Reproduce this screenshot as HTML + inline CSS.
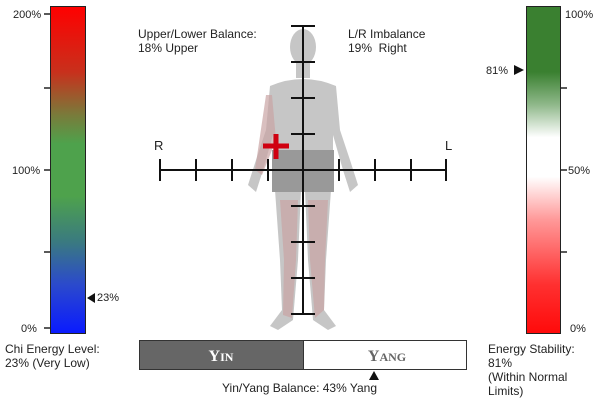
<!DOCTYPE html>
<html><head><style>
body{margin:0;width:600px;height:406px;background:#fff;position:relative;overflow:hidden;font-family:"Liberation Sans",Arial,sans-serif;color:#222}
.t{position:absolute;font-size:12px;line-height:14px;white-space:nowrap}
</style></head><body>
<svg width="600" height="406" style="position:absolute;left:0;top:0">
<defs>
<linearGradient id="g1" x1="0" y1="0" x2="0" y2="1">
<stop offset="0" stop-color="#ff0000"/><stop offset="0.2" stop-color="#c8301c"/><stop offset="0.33" stop-color="#7a7a3a"/><stop offset="0.42" stop-color="#4ea24c"/><stop offset="0.58" stop-color="#4ea24c"/><stop offset="0.72" stop-color="#3a7a80"/><stop offset="0.85" stop-color="#2b4acc"/><stop offset="1" stop-color="#0a1aff"/>
</linearGradient>
<linearGradient id="g2" x1="0" y1="0" x2="0" y2="1">
<stop offset="0" stop-color="#3a8030"/><stop offset="0.2" stop-color="#3a8030"/><stop offset="0.3" stop-color="#8fb88a"/><stop offset="0.4" stop-color="#ffffff"/><stop offset="0.52" stop-color="#ffffff"/><stop offset="0.65" stop-color="#ff9a9a"/><stop offset="0.85" stop-color="#ff3030"/><stop offset="1" stop-color="#ff0a0a"/>
</linearGradient>
</defs>
<rect x="50.5" y="6.5" width="35" height="327" fill="url(#g1)" stroke="#222"/>
<g stroke="#222" stroke-width="1.5"><line x1="44" y1="14" x2="50" y2="14"/><line x1="44" y1="88" x2="50" y2="88"/><line x1="44" y1="170" x2="50" y2="170"/><line x1="44" y1="252" x2="50" y2="252"/><line x1="44" y1="328" x2="50" y2="328"/></g>
<polygon points="87,298 95,293 95,303" fill="#111"/>
<rect x="526.5" y="6.5" width="34" height="327" fill="url(#g2)" stroke="#222"/>
<g stroke="#222" stroke-width="1.5"><line x1="561" y1="88" x2="567" y2="88"/><line x1="561" y1="170" x2="567" y2="170"/><line x1="561" y1="252" x2="567" y2="252"/></g>
<polygon points="524,70 514,65 514,75" fill="#111"/>
<!-- body -->
<g fill="#c6c6c6">
<ellipse cx="303" cy="47" rx="13" ry="18"/>
<rect x="296" y="60" width="14" height="18"/>
<path d="M270 86 Q303 72 336 86 L340 130 L350 160 L358 185 L350 192 L343 170 L333 135 L333 160 L273 160 L273 135 L263 170 L256 192 L248 185 L256 160 L266 130 Z"/>
<path d="M275 190 L301 190 L298 260 L293 320 L278 330 L270 326 L282 310 L280 260 Z"/>
<path d="M305 190 L331 190 L326 260 L324 310 L336 326 L328 330 L313 320 L308 260 Z"/>
</g>
<g fill="#c9a4a4" opacity="0.7">
<path d="M266 95 L272 95 L276 140 L262 175 L255 170 Z"/>
<path d="M280 200 L298 200 L296 260 L292 318 L283 315 L284 260 Z"/>
<path d="M308 200 L328 200 L325 260 L324 310 L315 318 L310 260 Z"/>
</g>
<rect x="272" y="150" width="62" height="42" fill="#999"/>
<!-- axes -->
<g stroke="#111" stroke-width="2">
<line x1="303" y1="26" x2="303" y2="314"/>
<line x1="160" y1="170" x2="446" y2="170"/>
<line x1="291" y1="26" x2="315" y2="26"/><line x1="291" y1="62" x2="315" y2="62"/><line x1="291" y1="98" x2="315" y2="98"/><line x1="291" y1="134" x2="315" y2="134"/><line x1="291" y1="206" x2="315" y2="206"/><line x1="291" y1="242" x2="315" y2="242"/><line x1="291" y1="278" x2="315" y2="278"/><line x1="291" y1="314" x2="315" y2="314"/>
<line x1="160" y1="159" x2="160" y2="181"/><line x1="196" y1="159" x2="196" y2="181"/><line x1="232" y1="159" x2="232" y2="181"/><line x1="268" y1="159" x2="268" y2="181"/><line x1="339" y1="159" x2="339" y2="181"/><line x1="375" y1="159" x2="375" y2="181"/><line x1="411" y1="159" x2="411" y2="181"/><line x1="446" y1="159" x2="446" y2="181"/>
</g>
<g stroke="#d00010" stroke-width="5"><line x1="263" y1="146" x2="289" y2="146"/><line x1="276" y1="134" x2="276" y2="159"/></g>
<!-- yin yang -->
<rect x="139.5" y="340.5" width="164" height="29" fill="#666" stroke="#333"/>
<rect x="303.5" y="340.5" width="163" height="29" fill="#fff" stroke="#333"/>
<text x="221" y="361" text-anchor="middle" fill="#fff" font-family="Liberation Serif,serif" font-weight="bold" font-size="16">Y<tspan font-size="12">IN</tspan></text>
<text x="387" y="361" text-anchor="middle" fill="#666" font-family="Liberation Serif,serif" font-weight="bold" font-size="16">Y<tspan font-size="12">ANG</tspan></text>
<polygon points="374,371 369,380 379,380" fill="#111"/>
</svg>
<div class="t" style="left:13px;top:8px;font-size:11px">200%</div>
<div class="t" style="left:12px;top:164px;font-size:11px">100%</div>
<div class="t" style="left:21px;top:322px;font-size:11px">0%</div>
<div class="t" style="left:97px;top:291px;font-size:11px">23%</div>
<div class="t" style="left:5px;top:342px">Chi Energy Level:<br>23% (Very Low)</div>
<div class="t" style="left:138px;top:27px">Upper/Lower Balance:<br>18% Upper</div>
<div class="t" style="left:348px;top:27px">L/R Imbalance<br>19%&nbsp; Right</div>
<div class="t" style="left:154px;top:139px;font-size:13px">R</div>
<div class="t" style="left:445px;top:139px;font-size:13px">L</div>
<div class="t" style="left:565px;top:8px;font-size:11px">100%</div>
<div class="t" style="left:568px;top:164px;font-size:11px">50%</div>
<div class="t" style="left:570px;top:322px;font-size:11px">0%</div>
<div class="t" style="left:486px;top:64px;font-size:11px">81%</div>
<div class="t" style="left:488px;top:342px">Energy Stability:<br>81%<br>(Within Normal<br>Limits)</div>
<div class="t" style="left:222px;top:381px">Yin/Yang Balance: 43% Yang</div>
</body></html>
